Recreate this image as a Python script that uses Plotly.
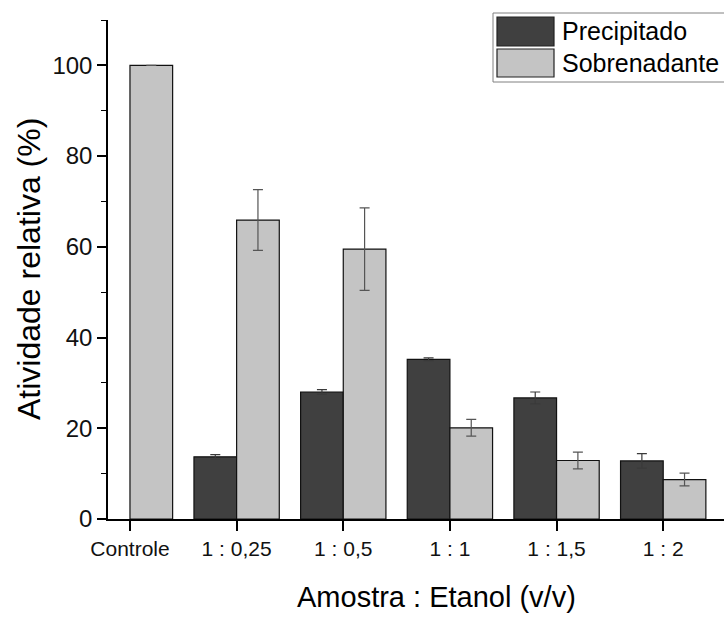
import plotly.graph_objects as go

categories = ["Controle", "1 : 0,25", "1 : 0,5", "1 : 1", "1 : 1,5", "1 : 2"]
precipitado = [None, 13.7, 28.0, 35.2, 26.7, 12.8]
precipitado_err = [None, 0.5, 0.5, 0.3, 1.3, 1.6]
sobrenadante = [100.0, 65.9, 59.5, 20.1, 12.9, 8.7]
sobrenadante_err = [None, 6.7, 9.1, 1.85, 1.85, 1.4]
y_ticks = [0, 20, 40, 60, 80, 100]

W, H = 724, 618
L, R, T, B = 108, 0, 20, 99
PW, PH = W - L - R, H - T - B
FONT = "Liberation Sans, Arial, sans-serif"
DARK = "#404040"
LIGHT = "#c4c4c4"


def px(x):
    return (x - L) / PW


def py(y):
    return (H - B - y) / PH


xidx = list(range(len(categories)))

fig = go.Figure()
fig.add_trace(go.Bar(
    x=xidx, y=precipitado, name="Precipitado",
    marker=dict(color=DARK, line=dict(color="#111111", width=1.2)),
    error_y=dict(type="data", array=precipitado_err, visible=True,
                 color="#3a3a3a", thickness=1.2, width=5),
))
fig.add_trace(go.Bar(
    x=xidx, y=sobrenadante, name="Sobrenadante",
    marker=dict(color=LIGHT, line=dict(color="#111111", width=1.2)),
    error_y=dict(type="data", array=sobrenadante_err, visible=True,
                 color="#555555", thickness=1.2, width=5),
))

fig.update_layout(
    width=W, height=H,
    margin=dict(l=L, r=R, t=T, b=B, pad=0),
    paper_bgcolor="white", plot_bgcolor="white",
    barmode="group", bargap=0.2, bargroupgap=0,
    showlegend=False,
    font=dict(family=FONT, color="#000000"),
)
fig.update_xaxes(
    range=[-0.206, 5.57],
    tickmode="array", tickvals=xidx, ticktext=categories,
    tickfont=dict(size=21, family=FONT, color="#111111"),
    ticks="outside", ticklen=10, tickwidth=1.5, tickcolor="#000000",
    showline=True, linecolor="#000000", linewidth=1.5,
    showgrid=False, zeroline=False,
)
fig.update_yaxes(
    range=[0, 110],
    tickmode="array", tickvals=y_ticks,
    tickfont=dict(size=24, family=FONT, color="#111111"),
    ticks="outside", ticklen=9, tickwidth=1.5, tickcolor="#000000",
    minor=dict(ticks="outside", ticklen=5, tickwidth=1.2, tickcolor="#000000", dtick=10),
    showline=True, linecolor="#000000", linewidth=1.5,
    showgrid=False, zeroline=False,
)

# axis titles
fig.add_annotation(text="Amostra : Etanol (v/v)", xref="paper", yref="paper",
                   x=px(436), y=py(597), showarrow=False,
                   font=dict(size=29, family=FONT, color="#000000"),
                   xanchor="center", yanchor="middle")
fig.add_annotation(text="Atividade relativa (%)", xref="paper", yref="paper",
                   x=px(29), y=py(269), showarrow=False, textangle=-90,
                   font=dict(size=32, family=FONT, color="#000000"),
                   xanchor="center", yanchor="middle")

# custom legend
fig.add_shape(type="rect", xref="paper", yref="paper",
              x0=px(493), x1=px(740), y0=py(82), y1=py(13),
              line=dict(color="#808080", width=1), fillcolor="white", layer="above")
for (name, col, y0, y1) in [("Precipitado", DARK, 17, 46), ("Sobrenadante", LIGHT, 49, 77)]:
    fig.add_shape(type="rect", xref="paper", yref="paper",
                  x0=px(497), x1=px(554), y0=py(y1), y1=py(y0),
                  line=dict(color="#222222", width=1.2), fillcolor=col, layer="above")
    fig.add_annotation(text=name, xref="paper", yref="paper",
                       x=px(560), y=py((y0 + y1) / 2), showarrow=False,
                       font=dict(size=25, family=FONT, color="#000000"),
                       xanchor="left", yanchor="middle")

fig.write_html("out.html")
